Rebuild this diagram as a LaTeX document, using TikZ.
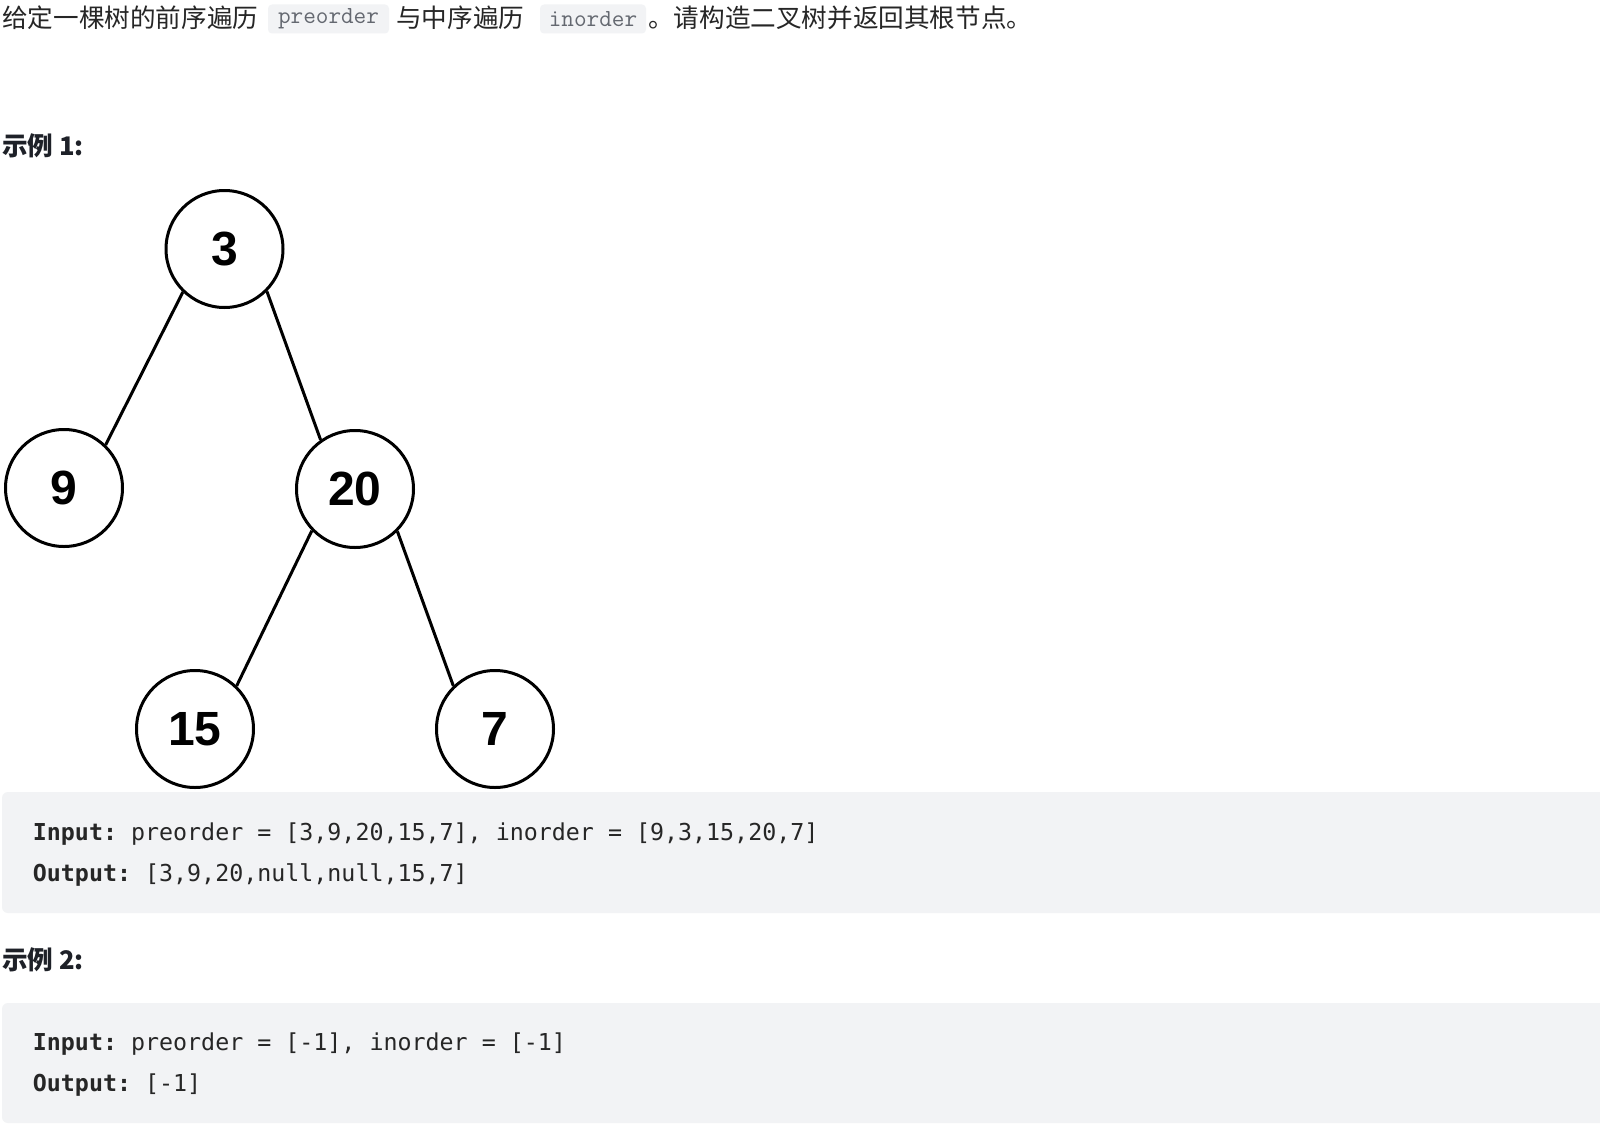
\documentclass[tikz,border=0pt]{standalone}
\usepackage{fontspec}
\newfontfamily\cjk{Noto Sans CJK SC}
\newfontfamily\arialf{Liberation Sans}
\newfontfamily\cmono{DejaVu Sans Mono}
\definecolor{txt}{RGB}{38,38,38}
\definecolor{headc}{RGB}{30,33,40}
\definecolor{codebg}{RGB}{242,243,245}
\definecolor{icodetxt}{RGB}{100,104,112}
\frenchspacing
\begin{document}
\begin{tikzpicture}[x=1pt,y=-1pt,
  cn/.style={inner sep=0pt, text=txt, font=\cjk\fontsize{25.6}{30}\selectfont},
  head/.style={inner sep=0pt, text=headc, font=\cjk\bfseries\fontsize{25.6}{30}\selectfont},
  icode/.style={fill=codebg, rounded corners=4pt, inner sep=0pt, text=icodetxt,
    font=\ttfamily\fontsize{24.5}{28}\selectfont, minimum height=29pt},
  codetxt/.style={inner sep=0pt, anchor=west, text=txt, font=\cmono\fontsize{23.3}{28}\selectfont},
  tnode/.style={circle, draw=black, line width=3pt, minimum size=117pt, inner sep=0pt,
    font=\arialf\bfseries\fontsize{48}{56}\selectfont},
  edge/.style={draw=black, line width=3pt}
]
\useasboundingbox (0,0) rectangle (1600,1124);
\fill[white] (0,0) rectangle (1600,1124);

% top sentence
\node[cn, anchor=west] (t1) at (2,17.5) {给定一棵树的前序遍历};
\node[icode, minimum width=121pt] (c1) at (328.5,19) {preorder};
\node[cn, anchor=west] (t2) at (396,17.5) {与中序遍历};
\node[icode, minimum width=106pt] (c2) at (593,19) {inorder};
\node[cn, anchor=west] (t3) at (648,17.5) {。请构造二叉树并返回其根节点。};

% example 1
\node[head, anchor=west] (h1) at (2,146) {示例 1:};

\node[tnode] (n3)  at (224.5,249) {3};
\node[tnode] (n9)  at (64,488) {9};
\node[tnode] (n20) at (355,489) {20};
\node[tnode] (n15) at (195,729) {15};
\node[tnode] (n7)  at (495,729) {7};

\draw[edge] (n3.226) -- (n9.46);
\draw[edge] (n3.315) -- (n20.125);
\draw[edge] (n20.224) -- (n15.46);
\draw[edge] (n20.315) -- (n7.134);

\fill[codebg, rounded corners=6pt] (2,792) rectangle (1612,913);
\node[codetxt] (i1) at (32.7,834) {{\bfseries Input:} preorder = [3,9,20,15,7], inorder = [9,3,15,20,7]};
\node[codetxt] (o1) at (32.7,874.5) {{\bfseries Output:} [3,9,20,null,null,15,7]};

% example 2
\node[head, anchor=west] (h2) at (2,960) {示例 2:};
\fill[codebg, rounded corners=6pt] (2,1003) rectangle (1612,1123);
\node[codetxt] (i2) at (32.7,1044) {{\bfseries Input:} preorder = [-1], inorder = [-1]};
\node[codetxt] (o2) at (32.7,1085) {{\bfseries Output:} [-1]};
\end{tikzpicture}
\end{document}
